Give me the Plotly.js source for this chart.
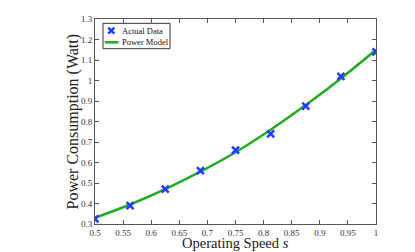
<!DOCTYPE html>
<html>
<head>
<meta charset="utf-8">
<script src="https://cdn.plot.ly/plotly-3.0.1.min.js"></script>
<style>html,body{margin:0;padding:0;background:#fff;}#chart{width:415px;height:252px;}</style>
</head>
<body>
<div id="chart"></div>
<script>
var speeds = [0.5, 0.5625, 0.625, 0.6875, 0.75, 0.8125, 0.875, 0.9375, 1.0];
var actualPower = [0.325, 0.39, 0.47, 0.56, 0.66, 0.74, 0.875, 1.02, 1.14];
var modelSpeeds = [0.5, 0.5625, 0.625, 0.6875, 0.75, 0.8125, 0.875, 0.9375, 1.0];
var modelPower = [0.33, 0.395, 0.47, 0.555, 0.65, 0.76, 0.88, 1.01, 1.15];
var xTicks = [0.5, 0.55, 0.6, 0.65, 0.7, 0.75, 0.8, 0.85, 0.9, 0.95, 1];
var yTicks = [0.3, 0.4, 0.5, 0.6, 0.7, 0.8, 0.9, 1, 1.1, 1.2, 1.3];
var legendNames = ['Actual Data', 'Power Model'];

var serif = "Liberation Serif, Times New Roman, serif";
var blue = '#1f3cff', green = '#22aa22';
var M = {l: 95, r: 39, t: 19, b: 28};
var W = 415, H = 252;
var PW = W - M.l - M.r, PH = H - M.t - M.b;
function px(x) { return (x - M.l) / PW; }
function py(y) { return 1 - (y - M.t) / PH; }

var traces = [
  {x: modelSpeeds, y: modelPower, mode: 'lines', name: legendNames[1], showlegend: false,
   line: {color: green, width: 2.5, shape: 'spline'}},
  {x: speeds, y: actualPower, mode: 'markers', name: legendNames[0], showlegend: false,
   marker: {symbol: 'x-thin-open', size: 7, color: blue, line: {color: blue, width: 2.5}}}
];
var axisCommon = {
  showgrid: false, zeroline: false, showline: true, mirror: 'ticks',
  linecolor: '#555', linewidth: 1, ticks: 'inside', ticklen: 4, tickcolor: '#555',
  tickfont: {family: serif, size: 9, color: '#333'}
};
var cx = 111.3, cy1 = 30.7, cy2 = 42.3, hs = 3;
var shapes = [
  {type: 'rect', xref: 'paper', yref: 'paper', x0: px(103), x1: px(170), y0: py(48.7), y1: py(23.3),
   line: {color: '#333', width: 1}, fillcolor: '#fff', layer: 'above'},
  {type: 'line', xref: 'paper', yref: 'paper', x0: px(cx - hs), x1: px(cx + hs), y0: py(cy1 - hs), y1: py(cy1 + hs),
   line: {color: blue, width: 2.5}, layer: 'above'},
  {type: 'line', xref: 'paper', yref: 'paper', x0: px(cx - hs), x1: px(cx + hs), y0: py(cy1 + hs), y1: py(cy1 - hs),
   line: {color: blue, width: 2.5}, layer: 'above'},
  {type: 'line', xref: 'paper', yref: 'paper', x0: px(105), x1: px(118.5), y0: py(cy2), y1: py(cy2),
   line: {color: green, width: 2.5}, layer: 'above'}
];
var layout = {
  width: W, height: H,
  margin: M,
  paper_bgcolor: '#fff', plot_bgcolor: '#fff',
  showlegend: false,
  shapes: shapes,
  xaxis: Object.assign({}, axisCommon, {range: [0.5, 1], tickvals: xTicks,
    ticktext: xTicks.map(String)}),
  yaxis: Object.assign({}, axisCommon, {range: [0.3, 1.3], tickvals: yTicks,
    ticktext: yTicks.map(String)}),
  annotations: [
    {text: legendNames[0], xref: 'paper', yref: 'paper', x: px(119.5), y: py(cy1),
     xanchor: 'left', yanchor: 'middle', showarrow: false,
     font: {family: serif, size: 8.5, color: '#111'}},
    {text: legendNames[1], xref: 'paper', yref: 'paper', x: px(119.5), y: py(cy2),
     xanchor: 'left', yanchor: 'middle', showarrow: false,
     font: {family: serif, size: 8.5, color: '#111'}},
    {text: 'Operating Speed <i>s</i>', xref: 'paper', yref: 'paper', x: 0.5, y: 0, yshift: -19,
     xanchor: 'center', yanchor: 'middle', showarrow: false,
     font: {family: serif, size: 14.5, color: '#222'}},
    {text: 'Power Consumption (Watt)', xref: 'paper', yref: 'paper', x: 0, xshift: -23, y: 0.5,
     xanchor: 'center', yanchor: 'middle', textangle: -90, showarrow: false,
     font: {family: serif, size: 16, color: '#222'}}
  ]
};
Plotly.newPlot('chart', traces, layout, {displayModeBar: false, staticPlot: true});
</script>
</body>
</html>
